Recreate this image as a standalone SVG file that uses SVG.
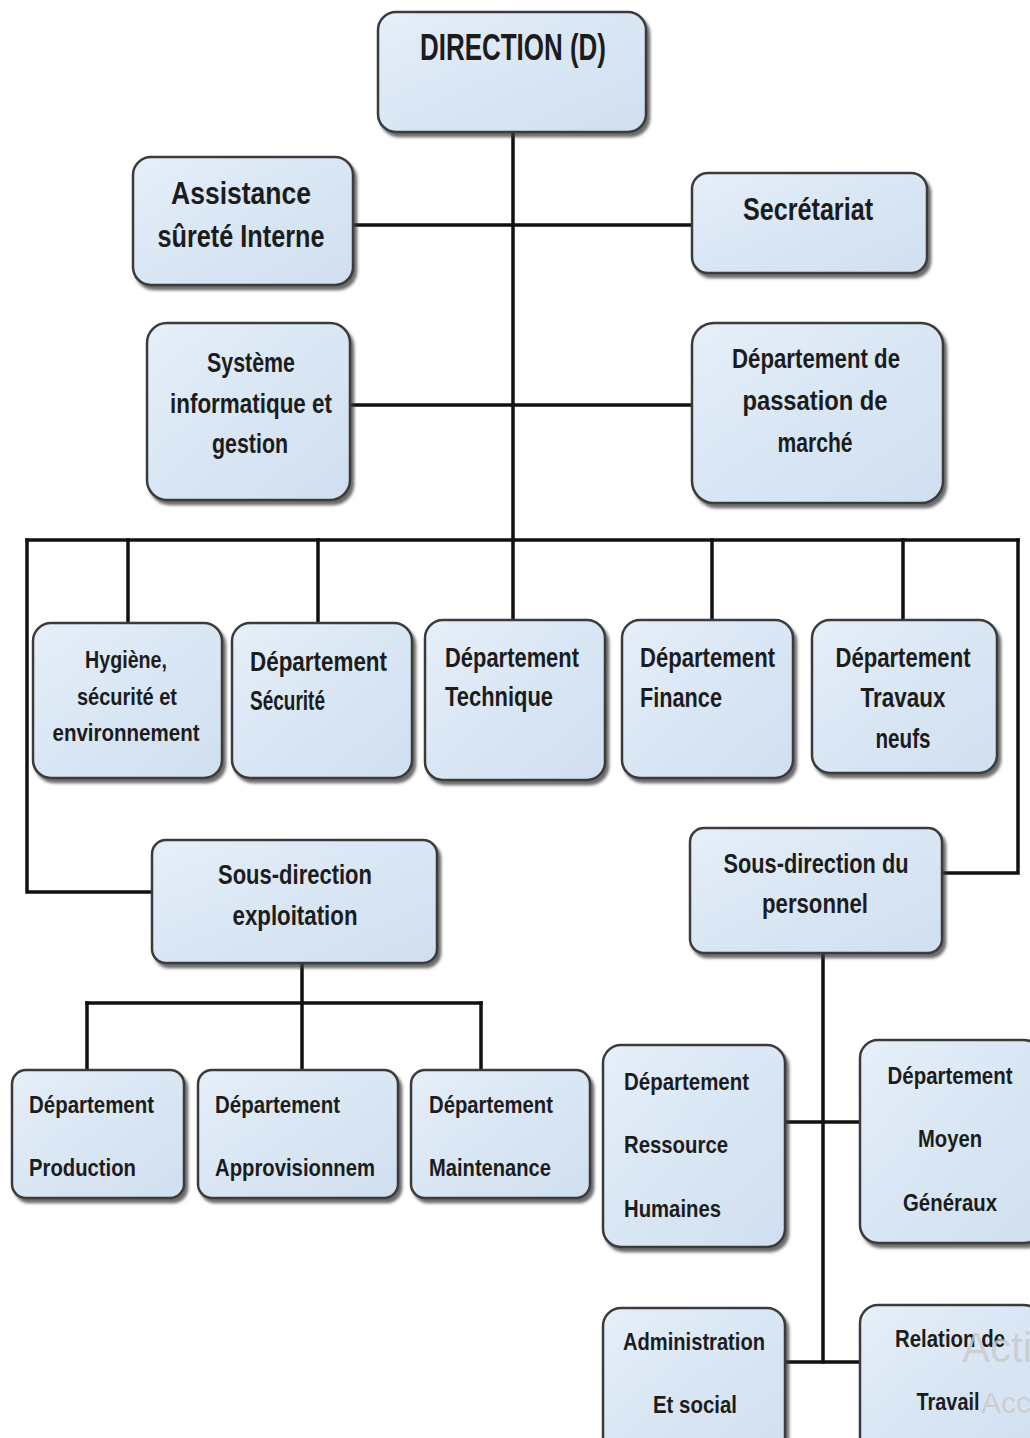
<svg xmlns="http://www.w3.org/2000/svg" width="1030" height="1438" viewBox="0 0 1030 1438">
<defs>
<linearGradient id="boxfill" x1="0" y1="0" x2="1" y2="1">
<stop offset="0" stop-color="#e6eff9"/>
<stop offset="0.5" stop-color="#d9e6f4"/>
<stop offset="1" stop-color="#d0dff0"/>
</linearGradient>
<filter id="shadow" x="-10%" y="-10%" width="130%" height="130%">
<feDropShadow dx="3" dy="4" stdDeviation="1.5" flood-color="#3a3a3a" flood-opacity="0.75"/>
</filter>
</defs>
<style>
.box{fill:url(#boxfill);stroke:#3b3b3b;stroke-width:2.5;filter:url(#shadow)}
.t{font-family:"Liberation Sans Narrow","Liberation Sans",Arial,sans-serif;font-weight:bold;fill:#1c1c1c}
.c{text-anchor:middle}
.conn{fill:none;stroke:#111;stroke-width:3.5;stroke-linecap:square}
.wm{font-family:"Liberation Sans",Arial,sans-serif;fill:#c9c9c9}
</style>
<rect width="1030" height="1438" fill="#ffffff"/>

<g id="connectors">
<path class="conn" d="M513,132 V540"/>
<path class="conn" d="M353,225 H690"/>
<path class="conn" d="M350,405 H692"/>
<path class="conn" d="M27,540 H1018"/>
<path class="conn" d="M27,540 V892 H152"/>
<path class="conn" d="M1018,540 V873 H942"/>
<path class="conn" d="M128,540 V623"/>
<path class="conn" d="M318,540 V623"/>
<path class="conn" d="M513,540 V620"/>
<path class="conn" d="M712,540 V620"/>
<path class="conn" d="M903,540 V620"/>
<path class="conn" d="M302,963 V1003"/>
<path class="conn" d="M87,1003 H481"/>
<path class="conn" d="M87,1003 V1070"/>
<path class="conn" d="M302,1003 V1070"/>
<path class="conn" d="M481,1003 V1070"/>
<path class="conn" d="M823,953 V1362"/>
<path class="conn" d="M785,1122 H860"/>
<path class="conn" d="M785,1362 H860"/>
</g>

<g id="n-direction">
<rect class="box" x="378" y="12" width="268" height="120" rx="18"/>
<text class="t c" x="513" y="60" font-size="36" textLength="186" lengthAdjust="spacingAndGlyphs">DIRECTION (D)</text>
</g>

<g id="n-assistance">
<rect class="box" x="133" y="157" width="220" height="128" rx="18"/>
<text class="t c" x="241" y="204" font-size="32" textLength="140" lengthAdjust="spacingAndGlyphs">Assistance</text>
<text class="t c" x="241" y="247" font-size="32" textLength="167" lengthAdjust="spacingAndGlyphs">sûreté Interne</text>
</g>

<g id="n-secretariat">
<rect class="box" x="692" y="173" width="235" height="100" rx="16"/>
<text class="t c" x="808" y="220" font-size="32" textLength="130" lengthAdjust="spacingAndGlyphs">Secrétariat</text>
</g>

<g id="n-systeme">
<rect class="box" x="147" y="323" width="203" height="177" rx="20"/>
<text class="t c" x="251" y="372" font-size="27" textLength="88" lengthAdjust="spacingAndGlyphs">Système</text>
<text class="t c" x="251" y="413" font-size="27" textLength="162" lengthAdjust="spacingAndGlyphs">informatique et</text>
<text class="t c" x="250" y="453" font-size="27" textLength="76" lengthAdjust="spacingAndGlyphs">gestion</text>
</g>

<g id="n-passation">
<rect class="box" x="692" y="323" width="251" height="180" rx="22"/>
<text class="t c" x="816" y="368" font-size="27" textLength="168" lengthAdjust="spacingAndGlyphs">Département de</text>
<text class="t c" x="815" y="410" font-size="27" textLength="145" lengthAdjust="spacingAndGlyphs">passation de</text>
<text class="t c" x="815" y="452" font-size="27" textLength="75" lengthAdjust="spacingAndGlyphs">marché</text>
</g>

<g id="n-hygiene">
<rect class="box" x="33" y="623" width="189" height="155" rx="18"/>
<text class="t c" x="126" y="668" font-size="24" textLength="82" lengthAdjust="spacingAndGlyphs">Hygiène,</text>
<text class="t c" x="127" y="705" font-size="24" textLength="100" lengthAdjust="spacingAndGlyphs">sécurité et</text>
<text class="t c" x="126" y="741" font-size="24" textLength="147" lengthAdjust="spacingAndGlyphs">environnement</text>
</g>

<g id="n-securite">
<rect class="box" x="232" y="623" width="180" height="155" rx="18"/>
<text class="t" x="250" y="671" font-size="27" textLength="137" lengthAdjust="spacingAndGlyphs">Département</text>
<text class="t" x="250" y="710" font-size="27" textLength="75" lengthAdjust="spacingAndGlyphs">Sécurité</text>
</g>

<g id="n-technique">
<rect class="box" x="425" y="620" width="180" height="160" rx="18"/>
<text class="t" x="445" y="667" font-size="27" textLength="134" lengthAdjust="spacingAndGlyphs">Département</text>
<text class="t" x="445" y="706" font-size="27" textLength="108" lengthAdjust="spacingAndGlyphs">Technique</text>
</g>

<g id="n-finance">
<rect class="box" x="622" y="620" width="171" height="158" rx="18"/>
<text class="t" x="640" y="667" font-size="27" textLength="135" lengthAdjust="spacingAndGlyphs">Département</text>
<text class="t" x="640" y="707" font-size="27" textLength="82" lengthAdjust="spacingAndGlyphs">Finance</text>
</g>

<g id="n-travaux">
<rect class="box" x="812" y="620" width="185" height="153" rx="18"/>
<text class="t c" x="903" y="667" font-size="27" textLength="135" lengthAdjust="spacingAndGlyphs">Département</text>
<text class="t c" x="903" y="707" font-size="27" textLength="85" lengthAdjust="spacingAndGlyphs">Travaux</text>
<text class="t c" x="903" y="748" font-size="27" textLength="55" lengthAdjust="spacingAndGlyphs">neufs</text>
</g>

<g id="n-sd-exploitation">
<rect class="box" x="152" y="840" width="285" height="123" rx="14"/>
<text class="t c" x="295" y="884" font-size="27" textLength="154" lengthAdjust="spacingAndGlyphs">Sous-direction</text>
<text class="t c" x="295" y="925" font-size="27" textLength="125" lengthAdjust="spacingAndGlyphs">exploitation</text>
</g>

<g id="n-sd-personnel">
<rect class="box" x="690" y="828" width="252" height="125" rx="14"/>
<text class="t c" x="816" y="873" font-size="27" textLength="185" lengthAdjust="spacingAndGlyphs">Sous-direction du</text>
<text class="t c" x="815" y="913" font-size="27" textLength="106" lengthAdjust="spacingAndGlyphs">personnel</text>
</g>

<g id="n-production">
<rect class="box" x="12" y="1070" width="172" height="128" rx="14"/>
<text class="t" x="29" y="1113" font-size="24" textLength="125" lengthAdjust="spacingAndGlyphs">Département</text>
<text class="t" x="29" y="1176" font-size="24" textLength="107" lengthAdjust="spacingAndGlyphs">Production</text>
</g>

<g id="n-approvisionnement">
<rect class="box" x="198" y="1070" width="200" height="128" rx="14"/>
<text class="t" x="215" y="1113" font-size="24" textLength="125" lengthAdjust="spacingAndGlyphs">Département</text>
<text class="t" x="215" y="1176" font-size="24" textLength="160" lengthAdjust="spacingAndGlyphs">Approvisionnem</text>
</g>

<g id="n-maintenance">
<rect class="box" x="411" y="1070" width="179" height="128" rx="14"/>
<text class="t" x="429" y="1113" font-size="24" textLength="124" lengthAdjust="spacingAndGlyphs">Département</text>
<text class="t" x="429" y="1176" font-size="24" textLength="122" lengthAdjust="spacingAndGlyphs">Maintenance</text>
</g>

<g id="n-rh">
<rect class="box" x="603" y="1045" width="182" height="202" rx="18"/>
<text class="t" x="624" y="1090" font-size="24" textLength="125" lengthAdjust="spacingAndGlyphs">Département</text>
<text class="t" x="624" y="1153" font-size="24" textLength="104" lengthAdjust="spacingAndGlyphs">Ressource</text>
<text class="t" x="624" y="1217" font-size="24" textLength="97" lengthAdjust="spacingAndGlyphs">Humaines</text>
</g>

<g id="n-moyens">
<rect class="box" x="860" y="1040" width="182" height="203" rx="18"/>
<text class="t c" x="950" y="1084" font-size="24" textLength="125" lengthAdjust="spacingAndGlyphs">Département</text>
<text class="t c" x="950" y="1147" font-size="24" textLength="64" lengthAdjust="spacingAndGlyphs">Moyen</text>
<text class="t c" x="950" y="1211" font-size="24" textLength="94" lengthAdjust="spacingAndGlyphs">Généraux</text>
</g>

<g id="n-administration">
<rect class="box" x="603" y="1308" width="182" height="150" rx="18"/>
<text class="t c" x="694" y="1350" font-size="24" textLength="142" lengthAdjust="spacingAndGlyphs">Administration</text>
<text class="t c" x="695" y="1413" font-size="24" textLength="84" lengthAdjust="spacingAndGlyphs">Et social</text>
</g>

<g id="n-relation">
<rect class="box" x="860" y="1305" width="182" height="150" rx="18"/>
<text class="t c" x="950" y="1347" font-size="24" textLength="110" lengthAdjust="spacingAndGlyphs">Relation de</text>
<text class="t c" x="948" y="1410" font-size="24" textLength="63" lengthAdjust="spacingAndGlyphs">Travail</text>
</g>

<g id="watermark" opacity="0.8">
<text class="wm" x="962" y="1362" font-size="42">Acti</text>
<text class="wm" x="981" y="1413" font-size="30">Accé</text>
</g>
</svg>
